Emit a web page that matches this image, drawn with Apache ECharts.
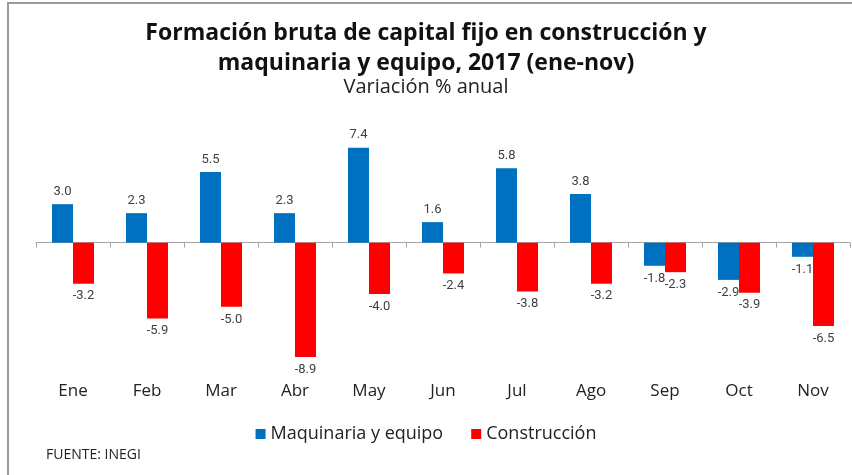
<!DOCTYPE html>
<html>
<head>
<meta charset="utf-8">
<script src="https://cdn.jsdelivr.net/npm/echarts@6/dist/echarts.min.js"></script>
<style>
  html, body { margin: 0; padding: 0; background: #fff; }
  #frame { position: absolute; left: 7px; top: 2px; width: 845px; height: 473px;
           border-left: 2px solid #9a9a9a; border-top: 2px solid #9a9a9a; }
  #chart { position: absolute; left: 0; top: 0; width: 852px; height: 475px; }
</style>
</head>
<body>
<div id="frame"></div>
<div id="chart"></div>
<script>
var meses = ['Ene', 'Feb', 'Mar', 'Abr', 'May', 'Jun', 'Jul', 'Ago', 'Sep', 'Oct', 'Nov'];
var maquinaria = [3.0, 2.3, 5.5, 2.3, 7.4, 1.6, 5.8, 3.8, -1.8, -2.9, -1.1];
var construccion = [-3.2, -5.9, -5.0, -8.9, -4.0, -2.4, -3.8, -3.2, -2.3, -3.9, -6.5];

var chart = echarts.init(document.getElementById('chart'));

function etiqueta(p) {
    return p.value.toFixed(1);
}
function labelCfg() {
    return {
        show: true,
        position: 'top',
        distance: 6,
        formatter: etiqueta,
        fontFamily: 'Roboto',
        fontSize: 13,
        color: '#404040'
    };
}
function serie(name, data, color) {
    return {
        name: name,
        type: 'bar',
        data: data.map(function (v) {
            return { value: v, label: { position: v < 0 ? 'bottom' : 'top' } };
        }),
        barWidth: 21,
        barGap: '0%',
        itemStyle: { color: color },
        label: labelCfg()
    };
}

chart.setOption({
    animation: false,
    title: [
        {
            text: 'Formación bruta de capital fijo en construcción y\nmaquinaria y equipo, 2017 (ene-nov)',
            left: 'center', top: 13,
            textStyle: { fontFamily: 'Open Sans', fontWeight: 'bold', fontSize: 23, lineHeight: 30, color: '#111' }
        },
        {
            text: 'Variación % anual',
            left: 'center', top: 72,
            textStyle: { fontFamily: 'Open Sans', fontWeight: 'normal', fontSize: 20, color: '#222' }
        },
        {
            text: 'FUENTE: INEGI',
            left: 41, top: 443,
            textStyle: { fontFamily: 'Open Sans', fontWeight: 'normal', fontSize: 14, color: '#222' }
        }
    ],
    legend: {
        top: 420,
        left: 'center',
        itemWidth: 10,
        itemHeight: 10,
        itemGap: 28,
        icon: 'rect',
        textStyle: { fontFamily: 'Open Sans', fontSize: 18, color: '#222' },
        data: ['Maquinaria y equipo', 'Construcción']
    },
    grid: { left: 36, right: 2, top: 140, height: 231 },
    xAxis: [
        {
            type: 'category',
            data: meses,
            axisLine: { onZero: true, lineStyle: { color: '#a6a6a6', width: 1 } },
            axisTick: { show: true, inside: false, length: 5, lineStyle: { color: '#a6a6a6' } },
            axisLabel: { show: false }
        },
        {
            type: 'category',
            data: meses,
            position: 'bottom',
            axisLine: { show: false, onZero: false },
            axisTick: { show: false },
            axisLabel: { margin: 12, fontFamily: 'Open Sans', fontSize: 17, color: '#222' }
        }
    ],
    yAxis: {
        type: 'value',
        min: -10,
        max: 8,
        show: false
    },
    series: [
        serie('Maquinaria y equipo', maquinaria, '#0070c0'),
        serie('Construcción', construccion, '#ff0000')
    ]
});
</script>
</body>
</html>
